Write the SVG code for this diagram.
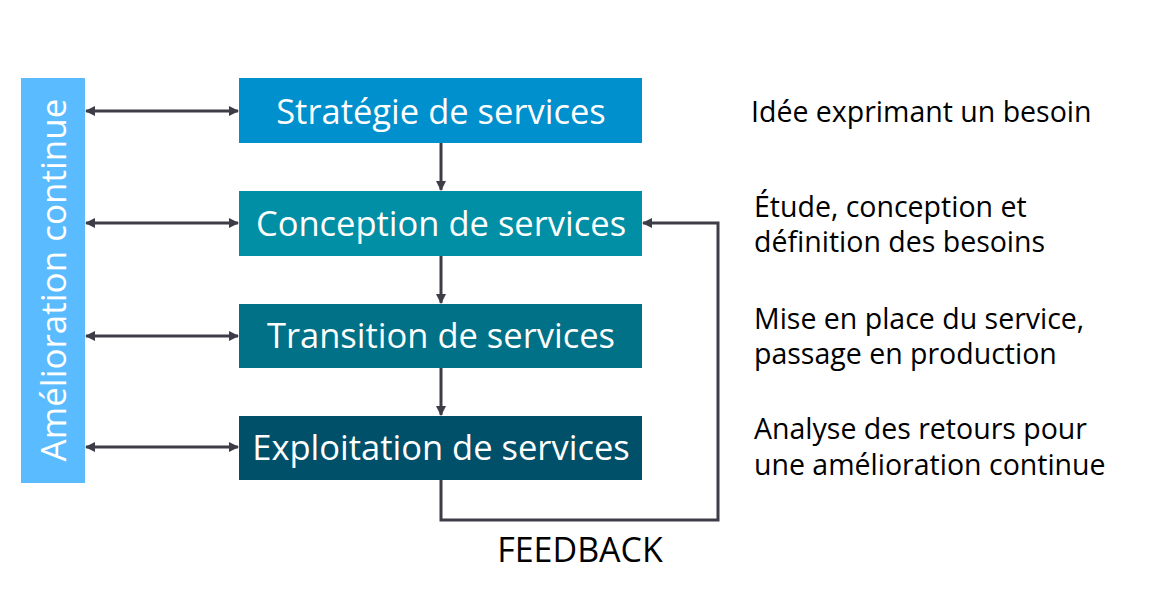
<svg xmlns="http://www.w3.org/2000/svg" width="1166" height="598" viewBox="0 0 1166 598">
<style>
.box{stroke:none}
.bt{font-family:"Open Sans","Noto Sans",sans-serif;font-size:34.5px;fill:#fff;text-anchor:middle}
.rt{font-family:"Open Sans","Noto Sans",sans-serif;font-size:28.5px;fill:#000}
.fb{font-family:"Open Sans","Noto Sans",sans-serif;font-size:34px;fill:#000;text-anchor:middle}
.vt{font-family:"Open Sans","Noto Sans",sans-serif;font-size:35px;fill:#fff;text-anchor:middle}
.ln{stroke:#3d3d48;stroke-width:3;fill:none}
</style>
<defs>
<marker id="ah" markerWidth="10" markerHeight="10" refX="9" refY="5" orient="auto-start-reverse" markerUnits="userSpaceOnUse">
<path d="M0,0 L10,5 L0,10 Z" fill="#3d3d48"/>
</marker>
</defs>
<rect width="1166" height="598" fill="#fff"/>
<g id="amelioration">
<rect x="21" y="78" width="64" height="405" fill="#5bbbff"/>
<text class="vt" transform="translate(66,280) rotate(-90)">Amélioration continue</text>
</g>
<g id="strategie">
<rect class="box" x="239" y="78" width="403" height="65" fill="#0090cd"/>
<text class="bt" x="441" y="124">Stratégie de services</text>
</g>
<g id="conception">
<rect class="box" x="239" y="191" width="403" height="65" fill="#008fa5"/>
<text class="bt" x="441" y="236">Conception de services</text>
</g>
<g id="transition">
<rect class="box" x="239" y="304" width="403" height="64" fill="#007186"/>
<text class="bt" x="441" y="348">Transition de services</text>
</g>
<g id="exploitation">
<rect class="box" x="239" y="416" width="403" height="64" fill="#00506a"/>
<text class="bt" x="441" y="460">Exploitation de services</text>
</g>
<g id="desc">
<text class="rt" x="751" y="122">Idée exprimant un besoin</text>
<text class="rt" x="754" y="217">Étude, conception et</text>
<text class="rt" x="754" y="252">définition des besoins</text>
<text class="rt" x="754" y="329">Mise en place du service,</text>
<text class="rt" x="754" y="364">passage en production</text>
<text class="rt" x="754" y="439">Analyse des retours pour</text>
<text class="rt" x="754" y="475">une amélioration continue</text>
<text class="fb" x="580" y="562">FEEDBACK</text>
</g>
<g id="connectors">
<line class="ln" x1="86" y1="111" x2="238" y2="111" marker-start="url(#ah)" marker-end="url(#ah)"/>
<line class="ln" x1="86" y1="223" x2="238" y2="223" marker-start="url(#ah)" marker-end="url(#ah)"/>
<line class="ln" x1="86" y1="336" x2="238" y2="336" marker-start="url(#ah)" marker-end="url(#ah)"/>
<line class="ln" x1="86" y1="447" x2="238" y2="447" marker-start="url(#ah)" marker-end="url(#ah)"/>
<line class="ln" x1="441" y1="143" x2="441" y2="190" marker-end="url(#ah)"/>
<line class="ln" x1="441" y1="256" x2="441" y2="303" marker-end="url(#ah)"/>
<line class="ln" x1="441" y1="368" x2="441" y2="415" marker-end="url(#ah)"/>
<polyline class="ln" points="441,480 441,520 718,520 718,223 643,223" marker-end="url(#ah)"/>
</g>
</svg>
